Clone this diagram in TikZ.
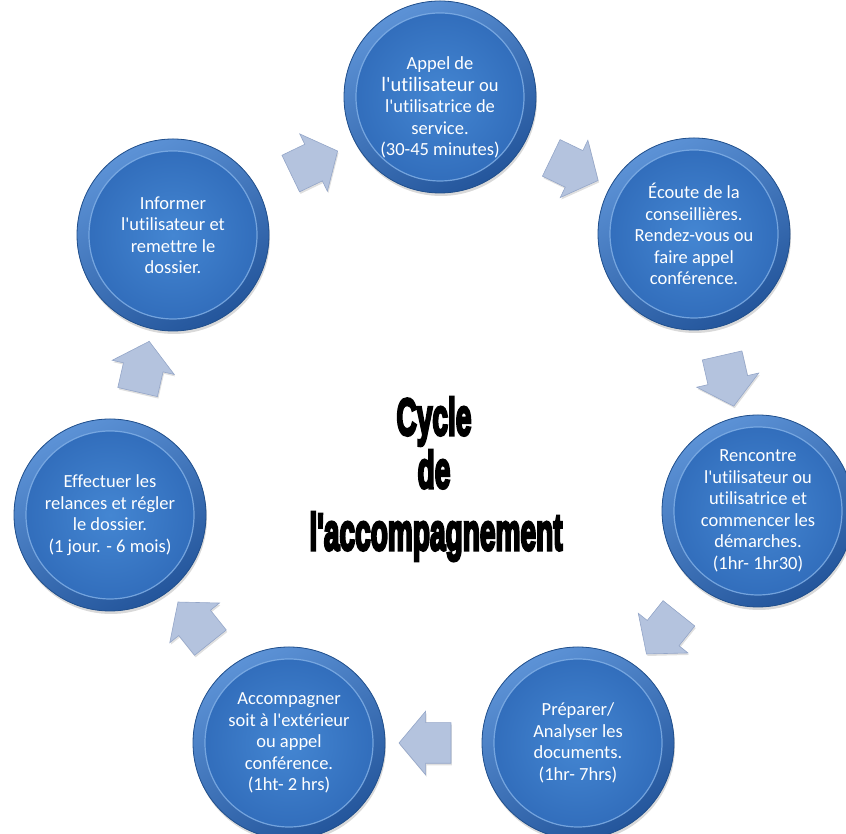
\documentclass[tikz,border=0pt]{standalone}
\usepackage{fontspec}
\newfontfamily\stepfont[Ligatures={TeXOff,CommonOff}]{Carlito}
\newfontfamily\titlefont[Ligatures={TeXOff,CommonOff},BoldFeatures={FakeBold=6}]{Liberation Sans}
\usetikzlibrary{calc,shapes.arrows,shadows}

\definecolor{bubbleedge}{RGB}{34,80,140}
\definecolor{rimlight}{RGB}{92,146,214}
\definecolor{rimdark}{RGB}{36,86,156}
\definecolor{bubblemid}{RGB}{68,134,210}
\definecolor{bubblebody}{RGB}{50,110,188}
\definecolor{bubblering}{RGB}{132,178,232}
\definecolor{arrowfill}{RGB}{180,195,222}
\definecolor{arrowedge}{RGB}{148,166,200}

\tikzset{
  stepbubble/.style={circle, minimum size=192pt, inner sep=0pt, align=center,
    text=white, font=\stepfont\fontsize{18.5}{21.5}\selectfont,
    draw=bubbleedge, line width=.8pt, fill=bubblebody,
    drop shadow={opacity=0.3, shadow xshift=1pt, shadow yshift=-3pt},
    path picture={
      % bevelled rim, then the face
      \shade[top color=rimlight, bottom color=rimdark, shading angle=30]
        (path picture bounding box.center) circle (96pt);
      \shade[inner color=bubblemid, outer color=bubblebody]
        (path picture bounding box.center) circle (84pt);
      \draw[bubblering, line width=1.2pt, opacity=.8]
        (path picture bounding box.center) circle (84pt);
    }},
  steparrow/.style={single arrow, minimum height=52pt, inner xsep=0pt, inner ysep=20pt,
    single arrow head extend=11.5pt, single arrow tip angle=100,
    fill=arrowfill, draw=arrowedge, line width=.6pt,
    drop shadow={opacity=0.25, shadow xshift=1pt, shadow yshift=-2pt}},
  titletext/.style={font=\titlefont\bfseries\fontsize{52}{52}\selectfont, inner sep=0pt, anchor=base}
}

\begin{document}
\begin{tikzpicture}[x=1pt, y=1pt]
  \useasboundingbox (0,0) rectangle (846,834);

  % The seven steps, clockwise from the top
  \node[stepbubble] (appel) at (440,737) {\mbox{}\\[13pt]Appel de\\ {\fontsize{20.5}{21.5}\selectfont l'utilisateur} ou\\ l'utilisatrice de\\ service.\\ (30-45 minutes)};
  \node[stepbubble] (ecoute) at (694,600) {Écoute de la\\ conseillières.\\ Rendez-vous ou\\ faire appel\\ conférence.};
  \node[stepbubble] (rencontre) at (758,323) {Rencontre\\ l'utilisateur ou\\ utilisatrice et\\ commencer les\\ démarches.\\ (1hr- 1hr30)};
  \node[stepbubble] (preparer) at (578,91) {Préparer/\\ Analyser les\\ documents.\\ (1hr- 7hrs)};
  \node[stepbubble] (accompagner) at (289,91) {Accompagner\\ soit à l'extérieur\\ ou appel\\ conférence.\\ (1ht- 2 hrs)};
  \node[stepbubble] (relances) at (110,319) {Effectuer les\\ relances et régler\\ le dossier.\\ (1 jour. - 6 mois)};
  \node[stepbubble] (informer) at (173,599) {Informer\\ l'utilisateur et\\ remettre le\\ dossier.};

  % Block arrows half way between neighbouring steps
  \node[steparrow, rotate=-25.7] (appel-ecoute) at ($(appel)!0.5!(ecoute)$) {};
  \node[steparrow, rotate=-77.1] (ecoute-rencontre) at ($(ecoute)!0.5!(rencontre)$) {};
  \node[steparrow, rotate=-128.6] (rencontre-preparer) at ($(rencontre)!0.5!(preparer)$) {};
  \node[steparrow, rotate=180] (preparer-accompagner) at ($(preparer)!0.5!(accompagner)$) {};
  \node[steparrow, rotate=128.6] (accompagner-relances) at ($(accompagner)!0.5!(relances)$) {};
  \node[steparrow, rotate=77.1] (relances-informer) at ($(relances)!0.5!(informer)$) {};
  \node[steparrow, rotate=25.7] (informer-appel) at ($(informer)!0.5!(appel)$) {};

  % Title in the middle
  \node[titletext] (cycle) at (434,399) {\scalebox{0.54}[1]{Cycle}};
  \node[titletext] (de) at (434,346) {\scalebox{0.54}[1]{de}};
  \node[titletext] (accomp) at (436,284) {\scalebox{0.54}[1]{l'accompagnement}};
\end{tikzpicture}
\end{document}
